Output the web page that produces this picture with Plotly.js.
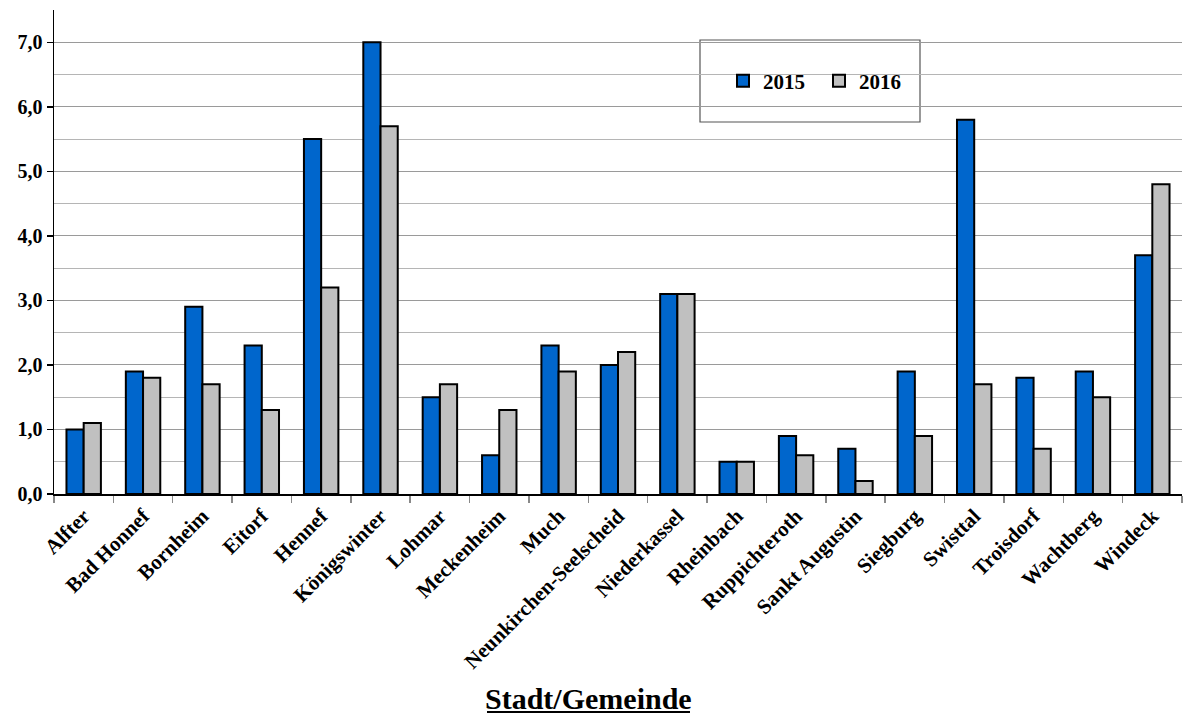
<!DOCTYPE html>
<html>
<head>
<meta charset="utf-8">
<script src="https://cdn.plot.ly/plotly-3.0.1.min.js"></script>
<style>
  html, body { margin: 0; padding: 0; background: #fff; }
  #chart { width: 1189px; height: 715px; }
</style>
</head>
<body>
<div id="chart"></div>
<script>
// Municipalities of the Rhein-Sieg district
const gemeinden = [
  "Alfter", "Bad Honnef", "Bornheim", "Eitorf", "Hennef", "Königswinter",
  "Lohmar", "Meckenheim", "Much", "Neunkirchen-Seelscheid", "Niederkassel",
  "Rheinbach", "Ruppichteroth", "Sankt Augustin", "Siegburg", "Swisttal",
  "Troisdorf", "Wachtberg", "Windeck"
];

const werte2015 = [1.0, 1.9, 2.9, 2.3, 5.5, 7.0, 1.5, 0.6, 2.3, 2.0, 3.1, 0.5, 0.9, 0.7, 1.9, 5.8, 1.8, 1.9, 3.7];
const werte2016 = [1.1, 1.8, 1.7, 1.3, 3.2, 5.7, 1.7, 1.3, 1.9, 2.2, 3.1, 0.5, 0.6, 0.2, 0.9, 1.7, 0.7, 1.5, 4.8];

const yTickVals = [0, 1, 2, 3, 4, 5, 6, 7];
const yTickText = ["0,0", "1,0", "2,0", "3,0", "4,0", "5,0", "6,0", "7,0"];

const serif = "Liberation Serif, Times New Roman, serif";

const traces = [
  {
    type: "bar", name: "2015", x: gemeinden, y: werte2015,
    marker: { color: "#0066CC", line: { color: "#000", width: 2 } },
    hoverinfo: "skip"
  },
  {
    type: "bar", name: "2016", x: gemeinden, y: werte2016,
    marker: { color: "#C0C0C0", line: { color: "#000", width: 2 } },
    hoverinfo: "skip"
  }
];

// Plot area in pixels: left 54, right 1182, top 10, bottom 494
const L = 54, R = 1182, T = 10, B = 494;
const px = v => (v - L) / (R - L);
const py = v => (B - v) / (B - T);

const layout = {
  width: 1189, height: 715,
  margin: { l: L, r: 1189 - R, t: T, b: 715 - B, pad: 0 },
  paper_bgcolor: "#fff", plot_bgcolor: "#fff",
  barmode: "group", bargap: 0.42, bargroupgap: 0,
  font: { family: serif, size: 18, color: "#000" },
  showlegend: true,
  legend: {
    orientation: "h",
    x: px(737 - 14), xanchor: "left",
    y: py(81), yanchor: "middle",
    bgcolor: "rgba(0,0,0,0)", borderwidth: 0,
    font: { family: serif, size: 21, color: "#000", weight: "bold" },
    itemwidth: 30, tracegroupgap: 0, entrywidth: 51
  },
  xaxis: {
    type: "category",
    tickangle: -45,
    tickfont: { family: serif, size: 21, color: "#000", weight: "bold" },
    showline: true, linecolor: "#000", linewidth: 1.5,
    ticks: "outside", tickson: "boundaries", ticklen: 7, tickcolor: "#888", tickwidth: 1.5,
    showgrid: false, fixedrange: true
  },
  yaxis: {
    range: [0, 7.5],
    tickvals: yTickVals, ticktext: yTickText,
    tickfont: { family: serif, size: 20, color: "#000", weight: "bold" },
    showline: true, linecolor: "#000", linewidth: 1.5,
    ticks: "outside", ticklen: 6, tickcolor: "#000", tickwidth: 1.5,
    showgrid: true, gridcolor: "#9a9a9a", gridwidth: 1,
    minor: { dtick: 0.5, tick0: 0, showgrid: true, gridcolor: "#b5b5b5", gridwidth: 1, ticks: "" },
    zeroline: false, fixedrange: true
  },
  shapes: [
    // legend frame
    {
      type: "rect", xref: "paper", yref: "paper", layer: "below",
      x0: px(700), x1: px(920), y0: py(122), y1: py(40),
      fillcolor: "#fff", line: { color: "#555", width: 1.2 }
    },
    // underline of the axis caption
    {
      type: "line", xref: "paper", yref: "paper",
      x0: px(487), x1: px(690), y0: py(712), y1: py(712),
      line: { color: "#000", width: 2 }
    }
  ],
  annotations: [
    {
      text: "Stadt/Gemeinde", xref: "paper", yref: "paper",
      x: px(588), y: py(698), xanchor: "center", yanchor: "middle",
      showarrow: false,
      font: { family: serif, size: 30, color: "#000", weight: "bold" }
    }
  ]
};

Plotly.newPlot("chart", traces, layout, { displayModeBar: false, staticPlot: true });
</script>
</body>
</html>
